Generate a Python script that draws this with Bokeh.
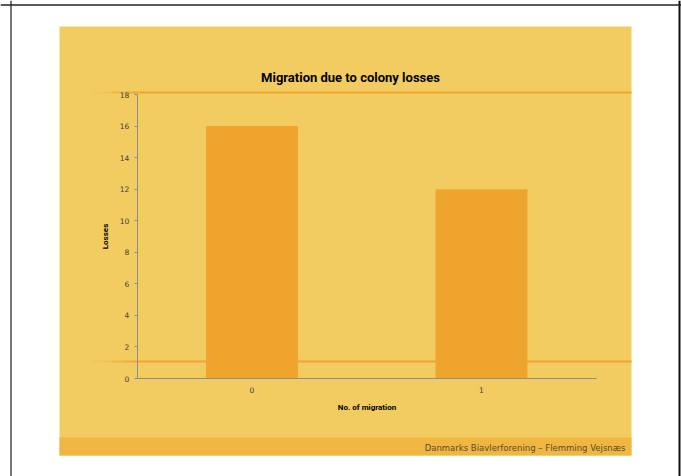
from bokeh.plotting import figure
from bokeh.models import BoxAnnotation, Span, Label, FixedTicker, Range1d, ColumnDataSource
from bokeh.embed import file_html
from bokeh.resources import INLINE

# ---- data ----
categories = [0, 1]
losses = [16, 12]
y_ticks = [0, 2, 4, 6, 8, 10, 12, 14, 16, 18]
title_text = "Migration due to colony losses"
x_label = "No. of migration"
y_label = "Losses"
footer_text = "Danmarks Biavlerforening \u2013 Flemming Vejsn\u00e6s"

# ---- layout (canvas pixels) ----
W, H = 681, 476
PX_X0 = 251.5          # canvas px of x = 0
PX_XU = 229.5          # px per category
PX_Y0 = 378.0          # canvas px of y = 0
PX_YU = 284.0 / 18.0   # px per loss


def dx(px):
    return (px - PX_X0) / PX_XU


def dy(py):
    return (PX_Y0 - py) / PX_YU


YELLOW = "#F2CC60"
FOOTER = "#EFB742"
BAR = "#EFA42E"
ORANGE = "#EFA42E"
GRID = "#a19f98"
AXIS = "#8d8d95"
LABEL_FONT = "Roboto"

p = figure(width=W, height=H,
           x_range=Range1d(dx(0), dx(W)), y_range=Range1d(dy(H), dy(0)),
           output_backend="svg", toolbar_location=None, min_border=0,
           background_fill_color="white", border_fill_color="white",
           outline_line_color=None)
p.xgrid.visible = False
p.ygrid.visible = False

# slide background
p.add_layout(BoxAnnotation(left=dx(59), right=dx(631), top=dy(26), bottom=dy(455),
                           fill_color=YELLOW, fill_alpha=1, line_color=None, level="underlay"))
p.add_layout(BoxAnnotation(left=dx(59), right=dx(631), top=dy(437), bottom=dy(455),
                           fill_color=FOOTER, fill_alpha=1, line_color=None, level="underlay"))

# page borders
p.add_layout(Span(location=dx(10.5), dimension="height", line_color="#777777", line_width=2))
p.add_layout(Span(location=dx(679), dimension="height", line_color="#111111", line_width=2))
p.add_layout(Span(location=dy(4.5), dimension="width", line_color="#222222", line_width=1.5))

# gridlines
lo, hi = min(categories) - 0.5, max(categories) + 0.5
gt = [t for t in y_ticks if t > 0]
p.segment(x0=[lo] * len(gt), x1=[hi] * len(gt), y0=gt, y1=gt,
          line_color=GRID, line_width=1, level="underlay")

# decorative orange lines (with faded left end)
for cy in (92, 361):
    p.add_layout(BoxAnnotation(left=dx(132), right=dx(631), top=dy(cy - 1), bottom=dy(cy + 1),
                               fill_color=ORANGE, fill_alpha=1, line_color=None, level="underlay"))
    steps = [(92, 102, 0.12), (102, 112, 0.3), (112, 122, 0.55), (122, 132, 0.8)]
    for a, b, al in steps:
        p.add_layout(BoxAnnotation(left=dx(a), right=dx(b), top=dy(cy - 1), bottom=dy(cy + 1),
                                   fill_color=ORANGE, fill_alpha=al, line_color=None,
                                   level="underlay"))

# bars
src = ColumnDataSource(dict(x=categories, top=losses))
p.vbar(x="x", top="top", width=0.4, source=src, fill_color=BAR, line_color=None)

# axes
p.yaxis.fixed_location = lo
p.xaxis.fixed_location = 0
p.yaxis.ticker = FixedTicker(ticks=y_ticks)
p.xaxis.ticker = FixedTicker(ticks=categories)
p.yaxis.bounds = (min(y_ticks), max(y_ticks))
p.xaxis.bounds = (lo, hi)
for ax in (p.xaxis, p.yaxis):
    ax.axis_line_color = AXIS
    ax.major_tick_line_color = AXIS
    ax.minor_tick_line_color = None
    ax.major_tick_in = 0
    ax.major_label_text_font = "DejaVu Sans"
    ax.major_label_text_font_size = "7.5px"
    ax.major_label_text_color = "#404040"
    ax.axis_label_text_font = LABEL_FONT
    ax.axis_label_text_font_style = "bold"
    ax.axis_label_text_font_size = "8px"
    ax.axis_label_text_color = "black"
p.yaxis.major_tick_out = 3
p.yaxis.major_label_standoff = 5
p.yaxis.axis_label = y_label
p.yaxis.axis_label_standoff = 7
p.xaxis.major_tick_out = 0
p.xaxis.major_label_standoff = 8
p.xaxis.axis_label = x_label
p.xaxis.axis_label_standoff = 7

# title and footer
p.add_layout(Label(x=dx(350), y=dy(77), text=title_text, text_align="center",
                   text_baseline="middle", text_font=LABEL_FONT, text_font_style="bold",
                   text_font_size="13px", text_color="black"))
p.add_layout(Label(x=dx(625), y=dy(447), text=footer_text, text_align="right",
                   text_baseline="middle", text_font="DejaVu Sans",
                   text_font_size="8.5px", text_color="#5b4a2e"))

open("out.html", "w").write(file_html(p, INLINE))
